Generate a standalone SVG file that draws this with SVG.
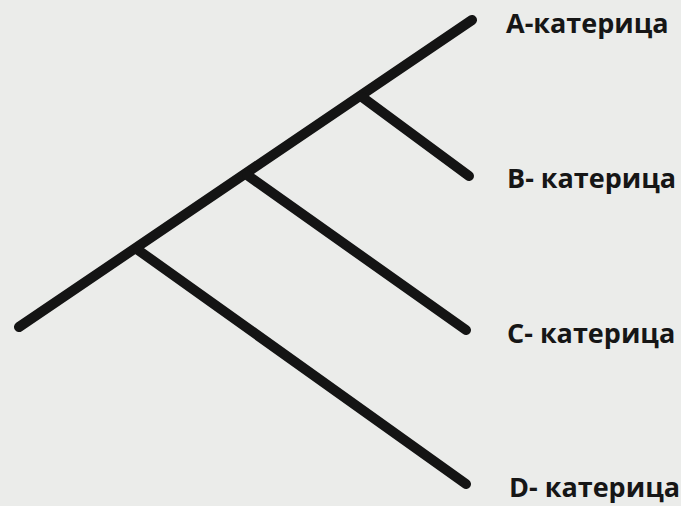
<svg xmlns="http://www.w3.org/2000/svg" width="681" height="506" viewBox="0 0 681 506">
<style>
.ln{stroke:#141414;stroke-width:10;stroke-linecap:round;fill:none}
.lb{font-family:"Open Sans","Noto Sans",sans-serif;font-weight:bold;font-size:27px;fill:#161616}
</style>
<rect width="681" height="506" fill="#ebecea"/>
<g id="connectors">
<line class="ln" x1="19" y1="327" x2="472" y2="20"/>
<line class="ln" x1="362" y1="97" x2="469" y2="176"/>
<line class="ln" x1="247" y1="175" x2="466" y2="330"/>
<line class="ln" x1="138" y1="250" x2="466" y2="484"/>
</g>
<g id="A"><text class="lb" x="506" y="33">A-катерица</text></g>
<g id="B"><text class="lb" x="507" y="188">B- катерица</text></g>
<g id="C"><text class="lb" x="507" y="343">C- катерица</text></g>
<g id="D"><text class="lb" x="509" y="497">D- катерица</text></g>
</svg>
